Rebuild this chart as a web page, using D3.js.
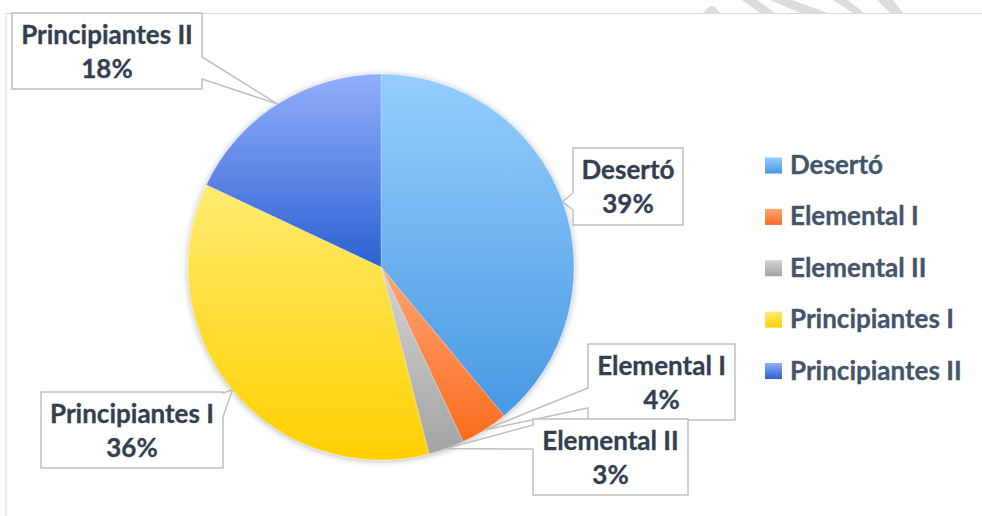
<!DOCTYPE html>
<html>
<head>
<meta charset="utf-8">
<script src="https://cdn.jsdelivr.net/npm/d3@7"></script>
<style>
  body { margin: 0; background: #fff; }
  svg { display: block; }
</style>
</head>
<body>
<div id="chart"></div>
<script>
// data
const categories = ["Desertó", "Elemental I", "Elemental II", "Principiantes I", "Principiantes II"];
const values = [39, 4, 3, 36, 18];
const pctLabels = ["39%", "4%", "3%", "36%", "18%"];

// styles
const colorTop = ["#95CEFD", "#FFA676", "#D4D4D4", "#FFEB70", "#93AFFB"];
const colorBottom = ["#4898E3", "#FA6B1C", "#A3A3A3", "#FFD000", "#2C60D2"];

// callout boxes (x, y, w, h) and the tail base along the near side
const callouts = [
  {x: 573, y: 148, w: 110, h: 77, side: "left",  t0: 193, t1: 210},
  {x: 588, y: 344, w: 147, h: 76, side: "left",  t0: 388, t1: 408},
  {x: 533, y: 419, w: 155, h: 76, side: "left",  t0: 425, t1: 449},
  {x: 41,  y: 392, w: 182, h: 76, side: "right", t0: 393, t1: 417},
  {x: 12,  y: 13,  w: 190, h: 76, side: "right", t0: 57,  t1: 79}
];

const width = 982, height = 516;
const cx = 381, cy = 267, radius = 193;
const font = "Lato, 'Open Sans', sans-serif";
const fontSize = "26px";

const svg = d3.select("#chart").append("svg")
  .attr("width", width)
  .attr("height", height);

const defs = svg.append("defs");

// gradients for each slice
categories.forEach(function(c, i) {
  const g = defs.append("linearGradient")
    .attr("id", "grad" + i)
    .attr("x1", 0).attr("y1", 0).attr("x2", 0).attr("y2", 1);
  g.append("stop").attr("offset", "0%").attr("stop-color", colorTop[i]);
  g.append("stop").attr("offset", "100%").attr("stop-color", colorBottom[i]);
});

const shadow = defs.append("filter")
  .attr("id", "shadow")
  .attr("x", "-20%").attr("y", "-20%").attr("width", "140%").attr("height", "140%");
shadow.append("feDropShadow")
  .attr("dx", 0).attr("dy", 1)
  .attr("stdDeviation", 3)
  .attr("flood-color", "#000")
  .attr("flood-opacity", 0.3);

// faint watermark strokes above the frame
const wm = [
  [[703, 13], [710, 6], [715, 7], [720, 13]],
  [[742, 0], [757, 0], [775, 13], [760, 13]],
  [[770, 0], [792, 0], [828, 13], [800, 13]],
  [[833, 0], [848, 0], [864, 13], [853, 13]],
  [[877, 0], [893, 0], [903, 13], [890, 13]]
];
svg.selectAll(".wm")
  .data(wm)
  .enter()
  .append("polygon")
  .attr("class", "wm")
  .attr("points", d => d.map(p => p.join(",")).join(" "))
  .attr("fill", "#DCDCDC");

// chart frame (top and left edges visible)
svg.append("path")
  .attr("d", "M6," + height + " L6,13.5 L" + width + ",13.5")
  .attr("fill", "none")
  .attr("stroke", "#D9D9D9")
  .attr("stroke-width", 1);

// pie
const pie = d3.pie().sort(null).value(d => d);
const arcs = pie(values);
const arc = d3.arc().innerRadius(0).outerRadius(radius);

const pieG = svg.append("g")
  .attr("transform", "translate(" + cx + "," + cy + ")")
  .attr("filter", "url(#shadow)");

pieG.selectAll("path")
  .data(arcs)
  .enter()
  .append("path")
  .attr("d", arc)
  .attr("fill", (d, i) => "url(#grad" + i + ")")
  .attr("stroke", "#fff")
  .attr("stroke-width", 0.5)
  .attr("stroke-opacity", 0.5);

// callouts
function calloutPath(b, tip) {
  const x0 = b.x, x1 = b.x + b.w, y0 = b.y, y1 = b.y + b.h;
  let pts;
  if (b.side === "left") {
    pts = [[x0, y0], [x1, y0], [x1, y1], [x0, y1], [x0, b.t1], tip, [x0, b.t0]];
  } else {
    pts = [[x0, y0], [x1, y0], [x1, b.t0], tip, [x1, b.t1], [x1, y1], [x0, y1]];
  }
  return "M" + pts.map(p => p.join(",")).join("L") + "Z";
}

const labelG = svg.append("g");

arcs.forEach(function(a, i) {
  const b = callouts[i];
  const mid = (a.startAngle + a.endAngle) / 2;
  const tip = [cx + radius * Math.sin(mid), cy - radius * Math.cos(mid)];
  const g = labelG.append("g");
  g.append("path")
    .attr("d", calloutPath(b, tip))
    .attr("fill", "#fff")
    .attr("stroke", "#BFBFBF")
    .attr("stroke-width", 1.5)
    .attr("stroke-linejoin", "miter");
  [categories[i], pctLabels[i]].forEach(function(t, k) {
    g.append("text")
      .attr("x", b.x + b.w / 2)
      .attr("y", b.y + 31 + k * 34)
      .attr("text-anchor", "middle")
      .style("font-family", font)
      .style("font-weight", "bold")
      .style("font-size", fontSize)
      .attr("fill", "#333F50")
      .attr("stroke", "#333F50")
      .attr("stroke-width", 0.3)
      .text(t);
  });
});

// legend
const legendY = d3.scalePoint()
  .domain(categories)
  .range([165.5, 371]);

const legend = svg.selectAll(".legend")
  .data(categories)
  .enter()
  .append("g")
  .attr("class", "legend")
  .attr("transform", d => "translate(765," + legendY(d) + ")");

legend.append("rect")
  .attr("x", 0)
  .attr("y", -8)
  .attr("width", 17)
  .attr("height", 16)
  .attr("fill", (d, i) => "url(#grad" + i + ")");

legend.append("text")
  .attr("x", 25)
  .attr("y", 8.5)
  .style("font-family", font)
  .style("font-weight", "bold")
  .style("font-size", fontSize)
  .attr("fill", "#44546A")
  .attr("stroke", "#44546A")
  .attr("stroke-width", 0.3)
  .text(d => d);
</script>
</body>
</html>
